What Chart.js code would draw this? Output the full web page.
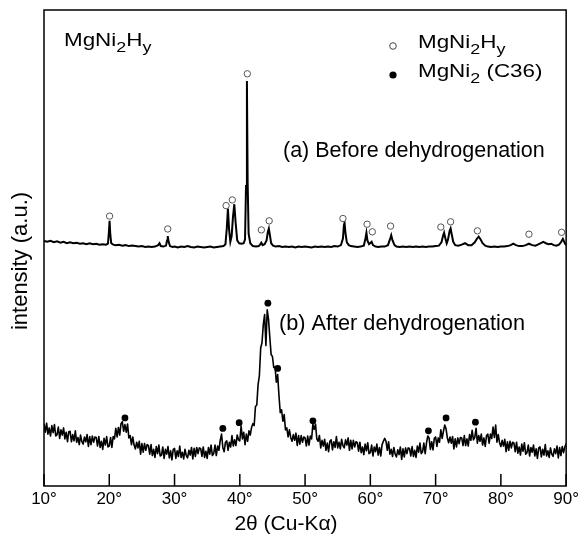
<!DOCTYPE html>
<html>
<head>
<meta charset="utf-8">
<script src="https://cdn.jsdelivr.net/npm/chart.js@4.4.1/dist/chart.umd.min.js"></script>
<style>
  html, body { margin: 0; padding: 0; background: #fff; }
  #xrd { display: block; }
</style>
</head>
<body>
<canvas id="xrd" width="582" height="542"></canvas>
<script>
// x axis ticks (degrees 2theta)
var tickDegrees = [10, 20, 30, 40, 50, 60, 70, 80, 90];

// (a) before dehydrogenation - 2theta and intensity (a.u.)
var beforeTheta = [
    10.0, 10.5, 11.0, 11.5, 12.0, 12.5, 13.0, 13.5, 14.0, 14.5,
    15.0, 15.5, 16.0, 16.5, 17.0, 17.5, 18.0, 18.5, 19.0, 19.5,
    19.8, 19.95, 20.05, 20.15, 20.3, 20.6, 21.0, 21.5, 22.0, 22.5,
    23.0, 23.5, 24.0, 24.5, 25.0, 25.5, 26.0, 26.5, 27.0, 27.5,
    27.7, 27.9, 28.3, 28.7, 28.85, 28.96, 29.1, 29.3, 29.7, 30.0,
    30.5, 31.0, 31.5, 32.0, 32.5, 33.0, 33.5, 34.0, 34.5, 35.0,
    35.5, 36.0, 36.5, 37.0, 37.5, 37.8, 38.0, 38.18, 38.35, 38.55,
    38.75, 38.95, 39.16, 39.35, 39.6, 39.9, 40.3, 40.6, 40.8, 40.95,
    41.09, 41.2, 41.35, 41.6, 42.0, 42.5, 42.9, 43.1, 43.3, 43.5,
    43.8, 44.1, 44.3, 44.45, 44.6, 44.8, 45.1, 45.5, 46.0, 46.5,
    47.0, 47.5, 48.0, 48.5, 49.0, 49.5, 50.0, 50.5, 51.0, 51.5,
    52.0, 52.5, 53.0, 53.5, 54.0, 54.5, 55.0, 55.5, 55.8, 55.95,
    56.05, 56.2, 56.4, 56.7, 57.0, 57.5, 58.0, 58.5, 59.0, 59.25,
    59.4, 59.55, 59.8, 60.05, 60.2, 60.4, 60.8, 61.2, 61.7, 62.2,
    62.7, 63.0, 63.2, 63.4, 63.7, 64.0, 64.5, 65.0, 65.5, 66.0,
    66.5, 67.0, 67.5, 68.0, 68.5, 69.0, 69.5, 70.0, 70.5, 70.9,
    71.15, 71.3, 71.5, 71.7, 71.9, 72.15, 72.3, 72.45, 72.7, 73.0,
    73.5, 74.0, 74.5, 75.0, 75.5, 76.0, 76.3, 76.6, 76.9, 77.2,
    77.6, 78.0, 78.5, 79.0, 79.5, 80.0, 80.5, 81.0, 81.5, 81.9,
    82.3, 82.8, 83.3, 83.8, 84.3, 84.8, 85.3, 85.8, 86.2, 86.5,
    86.9, 87.3, 87.7, 88.1, 88.5, 88.9, 89.2, 89.5, 89.8, 90.0
];
var beforeCounts = [
    51.5, 51.3, 51.5, 51.2, 51.4, 51.1, 51.3, 51.0, 51.2, 51.0,
    51.1, 50.9, 51.0, 50.8, 51.0, 50.8, 50.9, 50.7, 50.8, 50.7,
    50.9, 53.5, 55.7, 53.0, 51.0, 50.7, 50.6, 50.7, 50.5, 50.6,
    50.4, 50.5, 50.4, 50.3, 50.4, 50.2, 50.3, 50.2, 50.3, 50.6,
    51.0, 50.4, 50.3, 50.5, 51.6, 52.5, 51.3, 50.4, 50.2, 50.3,
    50.1, 50.3, 50.2, 50.4, 50.2, 50.1, 50.3, 50.2, 50.1, 50.2,
    50.3, 50.1, 50.2, 50.3, 50.4, 50.8, 54.0, 58.3, 54.0, 51.3,
    52.5, 56.5, 59.2, 55.5, 51.6, 51.0, 50.9, 51.0, 51.8, 63.0,
    85.1, 64.0, 53.0, 51.0, 50.4, 50.3, 50.4, 50.7, 51.1, 50.6,
    50.8, 51.6, 53.4, 54.1, 52.8, 51.0, 50.5, 50.3, 50.4, 50.2,
    50.3, 50.2, 50.3, 50.1, 50.3, 50.2, 50.3, 50.2, 50.1, 50.3,
    50.2, 50.3, 50.2, 50.3, 50.2, 50.4, 50.3, 50.6, 52.0, 54.8,
    55.3, 53.0, 51.2, 50.6, 50.4, 50.3, 50.2, 50.3, 50.5, 52.0,
    53.2, 51.6, 50.8, 51.1, 51.3, 50.6, 50.3, 50.2, 50.3, 50.3,
    50.6, 51.8, 52.7, 51.6, 50.6, 50.3, 50.2, 50.3, 50.2, 50.3,
    50.2, 50.3, 50.2, 50.3, 50.2, 50.3, 50.3, 50.4, 50.5, 51.2,
    52.6, 53.2, 52.0, 51.0, 51.8, 53.6, 54.1, 53.0, 51.3, 50.6,
    50.5, 50.7, 51.0, 50.6, 50.6, 51.2, 51.9, 52.4, 51.8, 51.0,
    50.5, 50.3, 50.2, 50.3, 50.2, 50.3, 50.3, 50.4, 50.6, 50.9,
    50.6, 50.4, 50.4, 50.6, 50.9, 50.6, 50.5, 50.8, 51.1, 51.3,
    51.0, 50.8, 50.9, 50.6, 50.5, 50.7, 51.2, 51.9, 51.0, 50.6
];

// (b) after dehydrogenation - scanned from 10 to 90 deg in 0.2 deg steps
var afterStart = 10;
var afterStep = 0.2;
var afterCounts = [
    13.1, 11.3, 13.2, 10.9, 12.2, 10.5, 12.7, 11.2, 12.9, 10.5,
    10.8, 12.4, 10.0, 11.8, 10.7, 12.2, 9.9, 11.3, 9.3, 11.4,
    11.5, 9.3, 10.8, 9.5, 11.6, 9.2, 10.2, 8.7, 10.7, 9.3,
    8.8, 10.3, 9.3, 10.8, 8.3, 10.4, 8.7, 10.5, 9.2, 10.3,
    10.2, 8.4, 10.4, 8.1, 9.4, 7.7, 10.0, 8.6, 10.4, 8.2,
    8.4, 10.2, 8.1, 10.4, 9.9, 12.1, 10.3, 12.3, 10.7, 13.1,
    13.5, 11.5, 12.9, 11.3, 13.0, 10.1, 10.6, 8.7, 10.3, 8.6,
    7.8, 9.2, 8.0, 9.4, 6.7, 8.9, 7.1, 8.9, 7.5, 8.7,
    8.5, 6.7, 8.7, 6.4, 7.7, 6.0, 8.3, 6.8, 8.6, 6.3,
    6.5, 8.2, 5.8, 7.7, 6.7, 8.3, 5.9, 7.4, 5.5, 7.7,
    7.9, 5.8, 7.4, 6.2, 8.4, 6.0, 7.1, 5.7, 7.7, 6.4,
    5.9, 7.5, 6.5, 8.1, 5.7, 7.9, 6.2, 8.1, 6.8, 8.0,
    7.9, 6.2, 8.2, 6.0, 7.3, 5.8, 8.1, 6.7, 8.6, 6.4,
    6.8, 8.6, 6.4, 8.4, 7.5, 9.6, 10.9, 8.1, 7.2, 9.2,
    9.5, 7.5, 9.2, 8.2, 10.6, 8.4, 9.7, 8.5, 10.7, 9.7,
    9.5, 12.6, 9.9, 11.3, 8.7, 10.9, 9.4, 11.6, 10.7, 12.3,
    13.1, 12.7, 16.7, 17.0, 21.3, 23.2, 29.0, 30.1, 33.9, 36.0,
    29.5, 37.0, 35.0, 31.2, 27.6, 27.2, 24.9, 25.0, 21.8, 23.4,
    19.0, 15.4, 16.0, 13.6, 15.0, 11.8, 12.2, 10.3, 11.8, 10.2,
    9.4, 10.8, 9.6, 11.1, 8.5, 10.6, 8.8, 10.6, 9.2, 10.3,
    10.1, 8.4, 10.5, 8.6, 10.5, 9.9, 13.0, 11.9, 13.0, 9.9,
    9.4, 10.6, 8.0, 9.6, 8.4, 9.8, 7.5, 9.0, 7.2, 9.4,
    9.7, 7.6, 9.3, 8.1, 10.4, 8.0, 9.2, 7.8, 9.8, 8.5,
    8.0, 9.7, 8.6, 10.1, 7.5, 9.6, 7.8, 9.6, 8.2, 9.3,
    9.1, 7.3, 9.2, 7.0, 8.2, 6.6, 8.8, 7.4, 9.1, 6.8,
    7.0, 8.6, 6.3, 8.2, 7.2, 8.8, 6.5, 8.1, 6.3, 8.7,
    9.4, 10.0, 9.4, 7.5, 9.3, 6.7, 7.7, 6.2, 8.1, 6.7,
    6.1, 7.6, 6.6, 8.2, 5.6, 7.8, 6.1, 8.0, 6.8, 8.0,
    7.9, 6.3, 8.3, 6.2, 7.5, 6.0, 8.4, 7.1, 9.0, 6.8,
    7.2, 9.0, 6.8, 9.0, 10.5, 10.1, 7.7, 9.3, 7.6, 10.0,
    10.3, 8.3, 10.1, 9.2, 11.8, 10.0, 11.5, 12.8, 12.0, 10.1,
    9.1, 10.3, 9.0, 10.4, 7.8, 9.9, 8.2, 10.1, 8.9, 10.2,
    10.1, 8.5, 10.6, 8.5, 9.9, 8.4, 10.8, 9.6, 11.7, 9.7,
    10.2, 12.1, 9.0, 10.6, 9.4, 10.9, 8.6, 10.1, 8.3, 10.6,
    10.9, 9.0, 10.9, 10.0, 12.4, 10.2, 12.8, 9.2, 10.8, 9.1,
    8.3, 9.6, 8.4, 9.8, 7.2, 9.3, 7.5, 9.4, 8.0, 9.2,
    9.0, 7.2, 9.2, 6.9, 8.2, 6.5, 8.8, 7.3, 9.1, 6.7,
    7.0, 8.6, 6.3, 8.1, 7.1, 8.6, 6.3, 7.8, 5.8, 8.0,
    8.2, 6.1, 7.7, 6.5, 8.7, 6.3, 7.4, 6.0, 8.0, 6.7,
    6.2, 7.8, 6.8, 8.4, 5.9, 8.1, 6.4, 8.3, 7.0, 8.2,
    8.9
];

// peak markers: open circles = MgNi2Hy, filled dots = MgNi2 (C36)
var hydridePeaks = [20.05, 28.96, 37.9, 38.85, 41.15, 43.3, 44.5, 55.8, 59.5, 60.3, 63.1, 70.8, 72.3, 76.4, 84.3, 89.3];
var hydrideMarks = [56.7, 54.0, 58.9, 60.1, 86.6, 53.8, 55.7, 56.2, 55.0, 53.4, 54.6, 54.4, 55.5, 53.6, 52.9, 53.3];
var c36Peaks = [22.4, 37.4, 39.9, 44.3, 45.8, 51.2, 68.9, 71.6, 76.1];
var c36Marks = [14.3, 12.1, 13.3, 38.4, 24.7, 13.7, 11.6, 14.3, 13.4];

var FONT = "'Liberation Sans', Arial, Helvetica, sans-serif";

function toPoints(xs, ys) {
    return xs.map(function(x, i) { return { x: x, y: ys[i] }; });
}

var afterTheta = afterCounts.map(function(c, i) {
    return Math.round((afterStart + i * afterStep) * 10) / 10;
});

// text with subscripts, parts = [[text, isSub], ...]
function drawChem(ctx, parts, x, y, size, stretch) {
    ctx.save();
    ctx.translate(x, y);
    ctx.scale(stretch, 1);
    ctx.textAlign = 'left';
    ctx.textBaseline = 'alphabetic';
    var cx = 0;
    parts.forEach(function(p) {
        var fs = p[1] ? size * 0.8 : size;
        ctx.font = fs + 'px ' + FONT;
        ctx.fillText(p[0], cx, p[1] ? size * 0.35 : 0);
        cx += ctx.measureText(p[0]).width;
    });
    ctx.restore();
}

var xrdDecor = {
    id: 'xrdDecor',
    afterDraw: function(chart) {
        var ctx = chart.ctx;
        var area = chart.chartArea;
        var xs = chart.scales.x;
        ctx.save();
        ctx.strokeStyle = '#000';
        ctx.lineWidth = 1.5;
        ctx.strokeRect(area.left, area.top, area.right - area.left, area.bottom - area.top);

        // ticks pointing into the plot
        ctx.beginPath();
        tickDegrees.forEach(function(t) {
            var px = xs.getPixelForValue(t);
            ctx.moveTo(px, area.bottom);
            ctx.lineTo(px, area.bottom - 12);
        });
        ctx.stroke();

        ctx.fillStyle = '#000';
        ctx.textBaseline = 'alphabetic';

        // axis titles
        ctx.textAlign = 'center';
        ctx.font = '21px ' + FONT;
        ctx.fillText('2θ (Cu-Kα)', 286, 530);
        ctx.save();
        ctx.translate(27, 261);
        ctx.rotate(-Math.PI / 2);
        ctx.font = '22px ' + FONT;
        ctx.fillText('intensity (a.u.)', 0, 0);
        ctx.restore();

        // sample label
        drawChem(ctx, [['MgNi', 0], ['2', 1], ['H', 0], ['y', 1]], 64, 46, 17.5, 1.28);

        // legend
        ctx.beginPath();
        ctx.arc(393, 46, 3.3, 0, Math.PI * 2);
        ctx.lineWidth = 1;
        ctx.strokeStyle = '#444';
        ctx.stroke();
        drawChem(ctx, [['MgNi', 0], ['2', 1], ['H', 0], ['y', 1]], 418, 48, 17.5, 1.28);
        ctx.beginPath();
        ctx.arc(393, 75, 3.6, 0, Math.PI * 2);
        ctx.fill();
        drawChem(ctx, [['MgNi', 0], ['2', 1], [' (C36)', 0]], 418, 77, 17.5, 1.28);

        // pattern labels
        ctx.textAlign = 'left';
        ctx.font = '21.5px ' + FONT;
        ctx.fillText('(a) Before dehydrogenation', 283, 157);
        ctx.font = '21.7px ' + FONT;
        ctx.fillText('(b) After dehydrogenation', 279, 330);
        ctx.restore();
    }
};

var ctx = document.getElementById('xrd').getContext('2d');
var xrdChart = new Chart(ctx, {
    type: 'scatter',
    data: {
        datasets: [{
            label: '(a) Before dehydrogenation',
            data: toPoints(beforeTheta, beforeCounts),
            showLine: true,
            borderColor: '#000',
            borderWidth: 2,
            pointRadius: 0,
            order: 3
        }, {
            label: '(b) After dehydrogenation',
            data: toPoints(afterTheta, afterCounts),
            showLine: true,
            borderColor: '#000',
            borderWidth: 1.6,
            borderJoinStyle: 'round',
            pointRadius: 0,
            order: 2
        }, {
            label: 'MgNi2Hy',
            data: toPoints(hydridePeaks, hydrideMarks),
            pointRadius: 3.2,
            pointBackgroundColor: '#fff',
            pointBorderColor: '#555',
            pointBorderWidth: 1,
            order: 1
        }, {
            label: 'MgNi2 (C36)',
            data: toPoints(c36Peaks, c36Marks),
            pointRadius: 3.4,
            pointBackgroundColor: '#000',
            pointBorderColor: '#000',
            pointBorderWidth: 0,
            order: 0
        }]
    },
    options: {
        responsive: false,
        animation: false,
        layout: {
            padding: { top: 10, right: 15, left: 0, bottom: 0 }
        },
        plugins: {
            legend: { display: false },
            tooltip: { enabled: false }
        },
        scales: {
            x: {
                type: 'linear',
                min: 10,
                max: 90,
                afterBuildTicks: function(scale) {
                    scale.ticks = tickDegrees.map(function(v) { return { value: v }; });
                },
                afterFit: function(scale) { scale.height = 56; },
                ticks: {
                    color: '#000',
                    font: { family: FONT, size: 17 },
                    padding: 3,
                    maxRotation: 0,
                    autoSkip: false,
                    callback: function(v) { return v + '°'; }
                },
                grid: { display: false, drawTicks: false },
                border: { display: false }
            },
            y: {
                min: 0,
                max: 100,
                afterFit: function(scale) { scale.width = 44; },
                ticks: { display: false },
                grid: { display: false, drawTicks: false },
                border: { display: false }
            }
        }
    },
    plugins: [xrdDecor]
});
</script>
</body>
</html>
